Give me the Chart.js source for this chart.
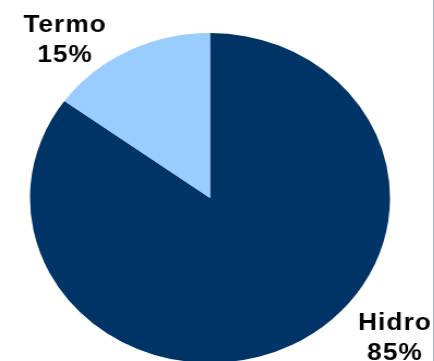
<!doctype html>
<html>
<head>
<title>Generación por fuente</title>
<script src="https://cdn.jsdelivr.net/npm/chart.js@4/dist/chart.umd.min.js"></script>
<style>
	html, body { margin: 0; padding: 0; background: #fff; }
	#frame {
		position: relative;
		width: 433px;
		height: 361px;
		overflow: hidden;
		border-right: 1px solid #a9b5c6;
	}
	/* the pie is drawn round, then widened to an oval */
	#stretch {
		position: absolute;
		left: 0;
		top: 0;
		width: 398px;
		height: 396px;
		transform-origin: 0 0;
		transform: scaleX(1.0909);
	}
</style>
</head>
<body>
<div id="frame">
	<div id="stretch">
		<canvas id="canvas" width="398" height="396" style="width:398px;height:396px"></canvas>
	</div>
</div>
<script>
	var categories = ['Hidro', 'Termo'];
	var shares = [85, 15];
	var sliceColors = ['#003366', '#99ccff'];
	// where each label sits, as a fraction of the radius from the centre
	var labelOffsets = [[1.028, 0.888], [-0.805, -0.915]];

	var outsideLabels = {
		id: 'outsideLabels',
		afterDatasetsDraw: function(chart) {
			var ctx = chart.ctx;
			var arcs = chart.getDatasetMeta(0).data;
			ctx.save();
			ctx.fillStyle = '#000';
			ctx.textAlign = 'center';
			ctx.textBaseline = 'alphabetic';
			ctx.font = 'bold 24px "Liberation Sans", Arial, sans-serif';
			ctx.letterSpacing = '1px';
			arcs.forEach(function(arc, i) {
				var r = arc.outerRadius;
				var x = arc.x + labelOffsets[i][0] * r;
				var y = arc.y + labelOffsets[i][1] * r;
				ctx.fillText(categories[i], x, y - 15);
				ctx.fillText(shares[i] + '%', x, y + 15);
			});
			ctx.restore();
		}
	};

	window.onload = function() {
		var ctx = document.getElementById('canvas').getContext('2d');
		window.myPie = new Chart(ctx, {
			type: 'pie',
			data: {
				labels: categories,
				datasets: [{
					data: shares,
					backgroundColor: sliceColors,
					borderWidth: 0
				}]
			},
			options: {
				responsive: false,
				animation: false,
				layout: {
					padding: { top: 33, bottom: 33, left: 27.5, right: 40.5 }
				},
				plugins: {
					legend: { display: false },
					tooltip: { enabled: false }
				}
			},
			plugins: [outsideLabels]
		});
	};
</script>
</body>
</html>
